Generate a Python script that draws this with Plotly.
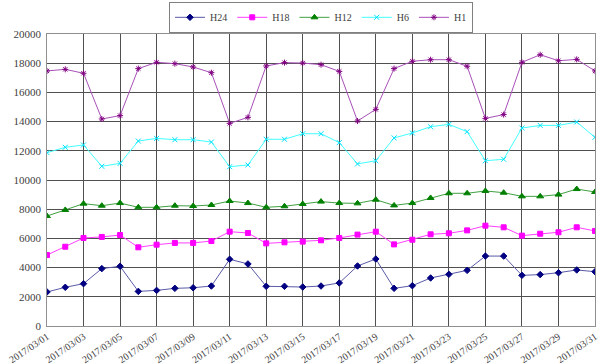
import plotly.graph_objects as go
import pandas as pd

dates = pd.date_range("2017-03-01", "2017-03-31", freq="D")

h24 = [2330, 2650, 2900, 3930, 4090, 2370, 2440, 2580, 2620, 2740,
       4570, 4250, 2720, 2720, 2670, 2740, 2950, 4110, 4590, 2580,
       2760, 3290, 3540, 3810, 4790, 4790, 3470, 3520, 3650, 3840, 3720]
h18 = [4860, 5430, 6030, 6100, 6230, 5390, 5570, 5690, 5690, 5820,
       6460, 6370, 5660, 5730, 5780, 5870, 6030, 6260, 6460, 5590,
       5910, 6280, 6350, 6550, 6870, 6760, 6190, 6320, 6420, 6760, 6510]
h12 = [7530, 7950, 8380, 8240, 8420, 8130, 8130, 8240, 8220, 8290,
       8560, 8420, 8130, 8200, 8360, 8520, 8420, 8400, 8650, 8260,
       8420, 8770, 9090, 9090, 9250, 9130, 8880, 8880, 9000, 9380, 9180]
h6 = [11870, 12240, 12400, 10940, 11140, 12670, 12850, 12760, 12760, 12600,
      10910, 11030, 12790, 12790, 13170, 13170, 12560, 11100, 11320, 12880,
      13220, 13650, 13810, 13310, 11320, 11420, 13560, 13740, 13740, 13970, 12920]
h1 = [17470, 17580, 17310, 14180, 14410, 17630, 18060, 17970, 17740, 17350,
      13880, 14290, 17810, 18040, 18010, 17900, 17440, 14040, 14840, 17630,
      18130, 18240, 18240, 17790, 14220, 14480, 18060, 18580, 18170, 18260, 17470]

series = [
    ("H24", h24, "#5a5aa8", "#000080", "diamond", 5),
    ("H18", h18, "#ff40ff", "#ff00ff", "square", 5),
    ("H12", h12, "#40a040", "#008000", "triangle-up", 6),
    ("H6", h6, "#40ffff", "#00e0ff", "x-thin-open", 5),
    ("H1", h1, "#a850b8", "#800080", "asterisk-open", 5),
]

fig = go.Figure()
for name, vals, lc, mc, sym, sz in series:
    fig.add_trace(go.Scatter(
        x=dates, y=vals, name=name, mode="lines+markers",
        line=dict(color=lc, width=1),
        marker=dict(symbol=sym, color=mc, size=sz,
                    line=dict(color=mc, width=1)),
    ))

font_family = "Liberation Serif, DejaVu Serif, serif"
fig.update_layout(
    width=600, height=364,
    margin=dict(l=47, r=5, t=34, b=38, autoexpand=False),
    paper_bgcolor="white", plot_bgcolor="white",
    font=dict(family=font_family, size=10, color="#404040"),
    showlegend=True,
    legend=dict(orientation="h", x=0.5, xanchor="center",
                y=0.995, yanchor="top", yref="container",
                bordercolor="#808080", borderwidth=1,
                font=dict(family=font_family, size=10, color="#404040"),
                itemwidth=30, tracegroupgap=0,
                bgcolor="white"),
    xaxis=dict(
        type="date", range=[dates[0], dates[-1]], automargin=False,
        tick0=dates[0], dtick=2 * 86400000, tickformat="%Y/%m/%d",
        tickangle=-34, showgrid=True, gridcolor="#505050", gridwidth=1,
        showline=True, linecolor="#909090", linewidth=1, mirror=True,
        ticks="", tickfont=dict(size=10, color="#404040"),
        zeroline=False,
    ),
    yaxis=dict(
        range=[0, 20000], dtick=2000, tickformat="d", automargin=False,
        showgrid=True, gridcolor="#505050",
        gridwidth=1, showline=True, linecolor="#909090", linewidth=1, mirror=True,
        ticks="", tickfont=dict(size=11, color="#404040"),
        zeroline=False, ticksuffix=" ",
    ),
)

fig.write_html("out.html", config={"displayModeBar": False},
               post_script="document.body.style.margin='0';document.body.style.overflow='hidden';")
